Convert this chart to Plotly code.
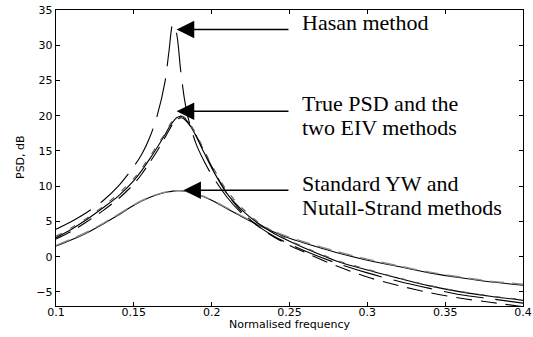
import plotly.graph_objects as go

freq = [0.10, 0.11, 0.12, 0.13, 0.14, 0.15, 0.155, 0.16, 0.165, 0.17, 0.1725, 0.175,
        0.1775, 0.18, 0.1825, 0.185, 0.19, 0.195, 0.20, 0.21, 0.22, 0.23, 0.24, 0.25,
        0.26, 0.28, 0.30, 0.32, 0.34, 0.36, 0.38, 0.40]

true_psd = [2.7, 3.9, 5.3, 6.9, 8.6, 10.8, 12.2, 13.8, 15.5, 17.3, 18.3, 19.1,
            19.7, 19.9, 19.7, 19.0, 17.1, 14.8, 12.6, 8.9, 6.5, 4.7, 3.3, 2.2,
            1.2, -0.6, -1.9, -3.05, -4.15, -5.0, -5.65, -6.2]

eiv_1 = [2.5, 3.6, 5.0, 6.5, 8.2, 10.3, 11.7, 13.3, 15.0, 16.9, 17.9, 18.8,
         19.4, 19.7, 19.5, 18.9, 17.2, 15.0, 12.8, 8.9, 6.2, 4.3, 2.8, 1.6,
         0.6, -1.3, -2.9, -4.1, -5.1, -5.9, -6.5, -7.1]

eiv_2 = [2.9, 4.1, 5.5, 7.1, 8.9, 11.1, 12.5, 14.1, 15.8, 17.5, 18.5, 19.3,
         19.8, 20.0, 19.8, 19.2, 17.4, 15.2, 13.0, 9.3, 6.8, 4.9, 3.5, 2.3,
         1.3, -0.5, -1.8, -3.0, -4.1, -4.95, -5.6, -6.1]

hasan = [3.9, 5.0, 6.3, 7.9, 10.0, 12.8, 14.5, 16.8, 20.0, 24.8, 29.0, 33.0,
         31.6, 26.6, 22.4, 19.6, 16.0, 13.6, 11.6, 8.4, 6.0, 4.3, 2.9, 1.8,
         0.8, -0.9, -2.3, -3.5, -4.5, -5.4, -6.0, -6.6]

std_yw = [1.5, 2.4, 3.4, 4.6, 5.9, 7.3, 7.9, 8.4, 8.8, 9.1, 9.2, 9.3,
          9.35, 9.35, 9.3, 9.2, 8.9, 8.5, 8.0, 6.8, 5.6, 4.5, 3.5, 2.6,
          1.9, 0.6, -0.5, -1.4, -2.3, -3.0, -3.6, -4.05]

nutall_strand = [1.6, 2.5, 3.5, 4.7, 6.0, 7.35, 7.95, 8.45, 8.85, 9.15, 9.25, 9.3,
                 9.35, 9.35, 9.3, 9.2, 8.95, 8.55, 8.05, 6.9, 5.7, 4.6, 3.6, 2.75,
                 2.05, 0.75, -0.35, -1.3, -2.2, -2.9, -3.5, -3.9]

x_tick_vals = [0.1, 0.15, 0.2, 0.25, 0.3, 0.35, 0.4]
x_tick_text = ["0.1", "0.15", "0.2", "0.25", "0.3", "0.35", "0.4"]
y_tick_vals = [-5, 0, 5, 10, 15, 20, 25, 30, 35]

W, H = 533, 337
L, R, T, B = 56, 10, 10, 31
PW, PH = W - L - R, H - T - B


def px_to_paper(px, py):
    return (px - L) / PW, (H - B - py) / PH


fig = go.Figure()


def add(y, dash, color="black", width=1.1):
    fig.add_trace(go.Scatter(x=freq, y=y, mode="lines",
                             line=dict(color=color, width=width, dash=dash,
                                       shape="spline", smoothing=0.8),
                             showlegend=False, hoverinfo="skip"))


add(std_yw, "solid")
add(nutall_strand, "14px,8px", color="#8a8a8a", width=1.4)
add(true_psd, "solid")
add(eiv_1, "16px,9px")
add(eiv_2, "6px,10px", color="#555555")
add(hasan, "40px,12px")

arrows = [
    (0.1775, 32.24, 0.2503, 32.24),
    (0.1775, 20.64, 0.2503, 20.64),
    (0.1818, 9.43, 0.2503, 9.43),
]
for (xt, yt, xa, ya) in arrows:
    fig.add_annotation(x=xt, y=yt, ax=xa, ay=ya, xref="x", yref="y",
                       axref="x", ayref="y", text="", showarrow=True,
                       arrowhead=2, arrowsize=2.2, arrowwidth=1.6,
                       arrowcolor="black", standoff=0)

labels = [
    ("Hasan method", 22),
    ("True PSD and the", 103.2),
    ("two EIV methods", 127.8),
    ("Standard YW and", 183),
    ("Nutall-Strand methods", 208),
]
for txt, ypix in labels:
    xp, yp = px_to_paper(300, ypix)
    fig.add_annotation(x=xp, y=yp, xref="paper", yref="paper",
                       text=txt, showarrow=False, xanchor="left", yanchor="middle",
                       font=dict(family="Liberation Serif", size=22, color="black"))

xp, yp = px_to_paper(289, 324)
fig.add_annotation(x=xp, y=yp, xref="paper", yref="paper", text="Normalised frequency",
                   showarrow=False, xanchor="center", yanchor="middle",
                   font=dict(family="DejaVu Sans", size=11, color="black"))
xp, yp = px_to_paper(20, 157)
fig.add_annotation(x=xp, y=yp, xref="paper", yref="paper", text="PSD, dB",
                   showarrow=False, xanchor="center", yanchor="middle", textangle=-90,
                   font=dict(family="DejaVu Sans", size=11, color="black"))

fig.update_xaxes(range=[0.1, 0.4], tickvals=x_tick_vals, ticktext=x_tick_text,
                 showline=True, linecolor="black", linewidth=1.4, mirror="allticks",
                 ticks="inside", ticklen=4, tickcolor="black", showgrid=False,
                 zeroline=False, ticklabeloverflow="allow", ticklabelstandoff=-5,
                 tickfont=dict(family="DejaVu Sans", size=11, color="black"))
fig.update_yaxes(range=[-7, 35], tickvals=y_tick_vals,
                 showline=True, linecolor="black", linewidth=1.4, mirror="allticks",
                 ticks="inside", ticklen=4, tickcolor="black", showgrid=False,
                 zeroline=False, ticklabeloverflow="allow",
                 tickfont=dict(family="DejaVu Sans", size=11, color="black"))

fig.update_layout(width=W, height=H, margin=dict(l=L, r=R, t=T, b=B, autoexpand=False),
                  plot_bgcolor="white", paper_bgcolor="white", hovermode=False)

fig.write_html("out.html",
               config={"displayModeBar": False, "staticPlot": True},
               post_script="document.body.style.margin='0px';"
                           "document.body.style.overflow='hidden';")
